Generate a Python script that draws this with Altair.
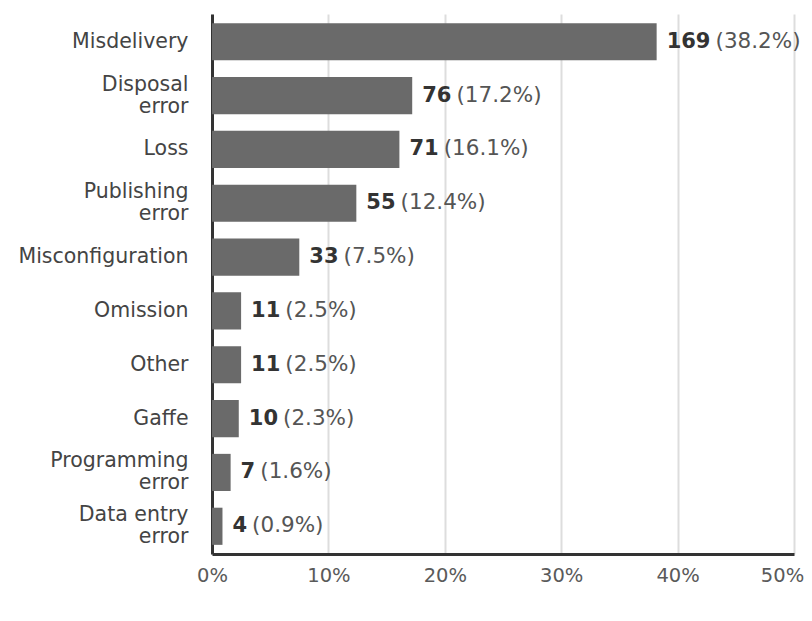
import altair as alt
import pandas as pd

# Incident categories (line breaks mark two-line axis labels)
categories = [
    "Misdelivery",
    "Disposal\nerror",
    "Loss",
    "Publishing\nerror",
    "Misconfiguration",
    "Omission",
    "Other",
    "Gaffe",
    "Programming\nerror",
    "Data entry\nerror",
]
counts = [169, 76, 71, 55, 33, 11, 11, 10, 7, 4]
percents = [38.2, 17.2, 16.1, 12.4, 7.5, 2.5, 2.5, 2.3, 1.6, 0.9]
x_ticks = [0, 10, 20, 30, 40, 50]

PLOT_W = 582
PLOT_H = 540
PX_PER_PCT = PLOT_W / 50.0
FONT = "DejaVu Sans"
VALUE_SIZE = 21
DIGIT_W = 0.696 * VALUE_SIZE  # bold digit advance width
LABEL_DX = 10

df = pd.DataFrame({"category": categories, "count": counts, "pct": percents})
df["count_text"] = df["count"].astype(str)
df["pct_text"] = "(" + df["pct"].astype(str) + "%)"

y_enc = alt.Y(
    "category:N",
    sort=categories,
    scale=alt.Scale(paddingInner=0.31, paddingOuter=0.17),
    axis=alt.Axis(
        title=None,
        ticks=False,
        labelExpr="split(datum.label, '\\n')",
        labelOffset={
            "condition": {"test": "indexof(datum.label, '\\n') >= 0", "value": -11},
            "value": 0,
        },
        labelFont=FONT,
        labelFontSize=20.5,
        labelColor="#444444",
        labelPadding=24,
        labelLineHeight=22,
        domainColor="#333333",
        domainWidth=3,
        grid=False,
    ),
)

x_enc = alt.X(
    "pct:Q",
    scale=alt.Scale(domain=[0, 50], nice=False),
    axis=alt.Axis(
        title=None,
        values=x_ticks,
        ticks=False,
        labelExpr="datum.value + '%'",
        labelFlush=False,
        labelOffset={
            "condition": {"test": "datum.value == 50", "value": -12},
            "value": 0,
        },
        labelFont=FONT,
        labelFontSize=19.5,
        labelColor="#5a5a5a",
        labelPadding=12,
        domainColor="#333333",
        domainWidth=3,
        grid=True,
        gridColor="#dddddd",
        gridWidth=2,
    ),
)

base = alt.Chart(df)

bars = base.mark_bar(color="#6a6a6a").encode(x=x_enc, y=y_enc)

count_labels = base.mark_text(
    align="left", baseline="middle", dx=LABEL_DX, font=FONT, fontSize=VALUE_SIZE,
    fontWeight="bold", color="#333333",
).encode(x="pct:Q", y=alt.Y("category:N", sort=categories), text="count_text:N")

pct_labels = base.transform_calculate(
    pct_x=f"datum.pct + ({LABEL_DX} + length(datum.count_text) * {DIGIT_W} + 5) / {PX_PER_PCT}"
).mark_text(
    align="left", baseline="middle", font=FONT, fontSize=21.5, color="#555555",
).encode(x="pct_x:Q", y=alt.Y("category:N", sort=categories), text="pct_text:N")

chart = (
    alt.layer(bars, count_labels, pct_labels)
    .properties(
        width=PLOT_W,
        height=PLOT_H,
        autosize=alt.AutoSizeParams(type="none"),
        padding={"left": 212, "top": 14, "right": 18, "bottom": 67},
        background="white",
    )
    .configure_view(stroke=None)
)

chart.save("out.html", embed_options={"renderer": "svg", "actions": False})
